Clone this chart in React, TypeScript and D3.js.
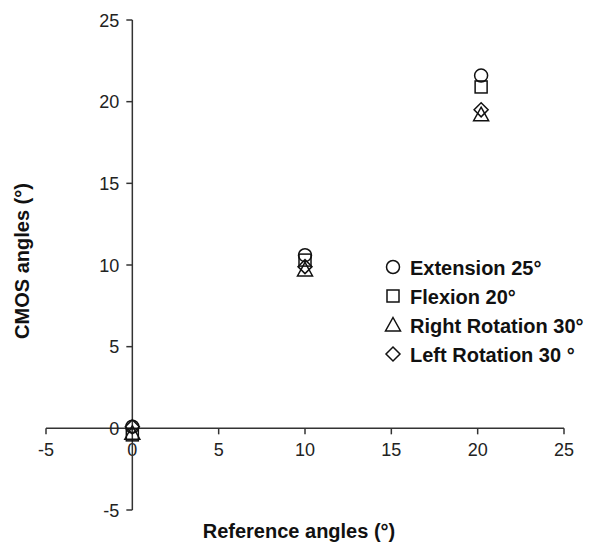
import React from "react";
import * as d3 from "d3";

// Series
const seriesNames = ["Extension 25°", "Flexion 20°", "Right Rotation 30°", "Left Rotation 30 °"];
const seriesSymbols = ["circle", "square", "triangle", "diamond"];
const refAngles = [0, 10, 20.2];
const extensionValues = [0.1, 10.6, 21.6];
const flexionValues = [-0.4, 10.3, 20.9];
const rightRotationValues = [-0.3, 9.7, 19.2];
const leftRotationValues = [0.1, 9.9, 19.5];
const tickValues = [-5, 0, 5, 10, 15, 20, 25];

const allValues = [extensionValues, flexionValues, rightRotationValues, leftRotationValues];

const width = 593;
const height = 547;
const font = "'Liberation Sans', Arial, sans-serif";

const Marker = ({ kind, x, y }: { kind: string; x: number; y: number }) => {
  const common = { fill: "none", stroke: "#111", strokeWidth: 1.5 };
  if (kind === "circle") return <circle cx={x} cy={y} r={6.5} {...common} />;
  if (kind === "square") return <rect x={x - 6} y={y - 6} width={12} height={12} {...common} />;
  if (kind === "triangle")
    return <path d={`M${x},${y - 7.5}L${x + 7.5},${y + 6}L${x - 7.5},${y + 6}Z`} {...common} />;
  return <path d={`M${x},${y - 7}L${x + 7},${y}L${x},${y + 7}L${x - 7},${y}Z`} {...common} />;
};

export default function App() {
  // Scales: axes cross at 0,0
  const x = d3.scaleLinear().domain([-5, 25]).range([46, 564]);
  const y = d3.scaleLinear().domain([-5, 25]).range([510, 20]);
  const axisColor = "#333";

  return (
    <svg width={width} height={height} style={{ display: "block", position: "absolute", left: 0, top: 0 }}>
      <rect width={width} height={height} fill="#fff" />

      {/* x axis at y = 0 */}
      <line x1={x(-5)} x2={x(25)} y1={y(0)} y2={y(0)} stroke={axisColor} strokeWidth={1.5} />
      {tickValues.map((t) => (
        <g key={"xt" + t}>
          <line x1={x(t)} x2={x(t)} y1={y(0)} y2={y(0) + 6} stroke={axisColor} strokeWidth={1.5} />
          <text x={x(t)} y={y(0) + 28} textAnchor="middle" fontFamily={font} fontSize={18} fill="#222">
            {t}
          </text>
        </g>
      ))}

      {/* y axis at x = 0 */}
      <line x1={x(0)} x2={x(0)} y1={y(-5)} y2={y(25)} stroke={axisColor} strokeWidth={1.5} />
      {tickValues.map((t) => (
        <g key={"yt" + t}>
          <line x1={x(0) - 6} x2={x(0)} y1={y(t)} y2={y(t)} stroke={axisColor} strokeWidth={1.5} />
          <text x={x(0) - 13} y={y(t) + 6.5} textAnchor="end" fontFamily={font} fontSize={18} fill="#222">
            {t}
          </text>
        </g>
      ))}

      {/* axis titles */}
      <text x={299} y={538} textAnchor="middle" fontFamily={font} fontSize={20} fontWeight="bold" fill="#111">
        Reference angles (°)
      </text>
      <text
        transform={`translate(29,${(y(-5) + y(25)) / 2 - 4}) rotate(-90)`}
        textAnchor="middle"
        fontFamily={font}
        fontSize={20}
        fontWeight="bold"
        fill="#111"
      >
        CMOS angles (°)
      </text>

      {/* points */}
      {allValues.map((vals, si) =>
        vals.map((v, i) => <Marker key={si + "-" + i} kind={seriesSymbols[si]} x={x(refAngles[i])} y={y(v)} />)
      )}

      {/* legend */}
      {seriesNames.map((name, i) => (
        <g key={name} transform={`translate(393,${267 + i * 29})`}>
          <Marker kind={seriesSymbols[i]} x={0} y={0} />
          <text x={17} y={7.5} fontFamily={font} fontSize={20} fontWeight="bold" fill="#111">
            {name}
          </text>
        </g>
      ))}
    </svg>
  );
}
